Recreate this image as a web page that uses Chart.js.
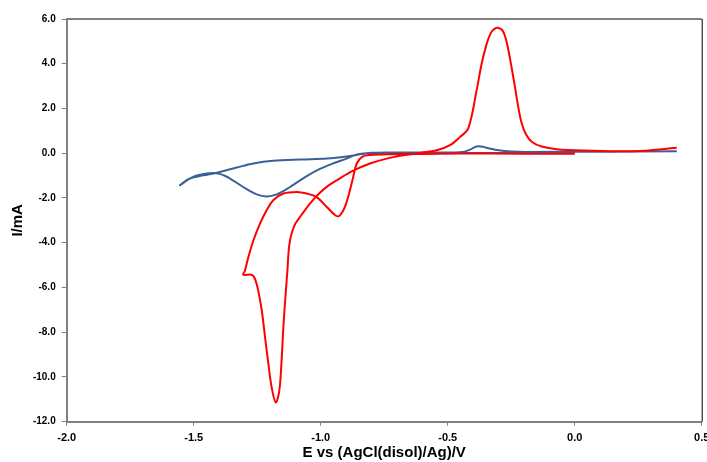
<!DOCTYPE html>
<html>
<head>
<meta charset="utf-8">
<script src="https://cdn.jsdelivr.net/npm/chart.js@4.4.0/dist/chart.umd.min.js"></script>
<style>
  body { margin: 0; background: #fff; }
  #wrap { width: 707px; height: 462px; position: relative; }
</style>
</head>
<body>
<div id="wrap"><canvas id="graf"></canvas></div>
<script>
// red curve (E in V, I in mA), in scan order
const redE = [0.00, -0.215, -0.452, -0.609, -0.727, -0.806, -0.837, -0.858, -0.872, -0.885, -0.898, -0.911, -0.931,
  -0.950, -0.976, -1.016, -1.055, -1.094, -1.147, -1.187, -1.213, -1.239, -1.265, -1.285, -1.298, -1.305,
  -1.272, -1.259, -1.246, -1.232, -1.219, -1.206, -1.193, -1.177, -1.163, -1.154, -1.147, -1.138, -1.131,
  -1.126, -1.120, -1.112, -1.100, -1.075, -1.040, -1.003, -0.970, -0.937, -0.872, -0.806, -0.740, -0.675, -0.609,
  -0.543, -0.491, -0.452, -0.419, -0.386, -0.366, -0.346, -0.330, -0.316, -0.300, -0.285, -0.272, -0.260, -0.248,
  -0.235, -0.222, -0.209, -0.192, -0.168, -0.130, -0.071, 0.034, 0.231, 0.402];
const redI = [-0.02, -0.02, -0.01, -0.03, -0.04, -0.08, -0.16, -0.46, -1.06, -1.66, -2.18, -2.55, -2.82,
  -2.70, -2.40, -1.96, -1.80, -1.73, -1.80, -2.10, -2.55, -3.15, -3.90, -4.65, -5.24, -5.43,
  -5.43, -5.61, -6.14, -7.03, -8.23, -9.42, -10.47, -11.14, -10.61, -9.27, -7.78, -6.28, -5.24,
  -4.34, -3.85, -3.50, -3.15, -2.75, -2.22, -1.77, -1.45, -1.21, -0.78, -0.46, -0.24, -0.09, 0.01,
  0.13, 0.36, 0.72, 1.11, 2.82, 4.02, 4.91, 5.38, 5.56, 5.60, 5.50, 5.15, 4.55, 3.80,
  2.95, 2.05, 1.35, 0.85, 0.50, 0.30, 0.18, 0.12, 0.09, 0.24];

// blue curve
const blueE = [0.00, -0.215, -0.452, -0.609, -0.727, -0.819, -0.858, -0.898, -0.950, -1.003, -1.055, -1.121,
  -1.173, -1.213, -1.252, -1.305, -1.357, -1.403, -1.449, -1.502, -1.554,
  -1.515, -1.462, -1.409, -1.331, -1.265, -1.187, -1.081, -0.976, -0.898, -0.840, -0.800, -0.688, -0.530,
  -0.440, -0.412, -0.395, -0.380, -0.362, -0.335, -0.300, -0.250, -0.189, 0.100, 0.402];
const blueI = [0.01, 0.01, 0.01, 0.00, 0.00, 0.00, -0.06, -0.24, -0.45, -0.70, -1.02, -1.51,
  -1.84, -1.93, -1.84, -1.51, -1.13, -0.91, -0.91, -1.06, -1.43,
  -1.13, -0.99, -0.87, -0.64, -0.46, -0.34, -0.28, -0.24, -0.15, -0.04, 0.02, 0.03, 0.03,
  0.06, 0.16, 0.26, 0.31, 0.29, 0.21, 0.13, 0.08, 0.06, 0.07, 0.09];

const xTicks = [-2.0, -1.5, -1.0, -0.5, 0.0, 0.5];
const yTicks = [-12, -10, -8, -6, -4, -2, 0, 2, 4, 6];

function pts(xs, ys) {
  return xs.map((x, i) => ({ x: x, y: ys[i] }));
}

// top and right edges of the plot box
const boxPlugin = {
  id: 'box',
  afterDraw(chart) {
    const a = chart.chartArea, ctx = chart.ctx;
    ctx.save();
    ctx.strokeStyle = '#808080';
    ctx.lineWidth = 2;
    ctx.beginPath();
    ctx.moveTo(a.left, a.top);
    ctx.lineTo(a.right, a.top);
    ctx.stroke();
    ctx.strokeStyle = '#000';
    ctx.lineWidth = 1;
    ctx.beginPath();
    ctx.moveTo(a.right + 0.5, a.top);
    ctx.lineTo(a.right + 0.5, a.bottom);
    ctx.stroke();
    ctx.restore();
  }
};

const ctx = document.querySelector('#graf').getContext('2d');
const graf = new Chart(ctx, {
  type: 'scatter',
  data: {
    datasets: [{
      label: 'red',
      data: pts(redE, redI),
      showLine: true,
      borderColor: '#ff0000',
      borderWidth: 2,
      pointRadius: 0,
      tension: 0.35
    }, {
      label: 'blue',
      data: pts(blueE, blueI),
      showLine: true,
      borderColor: '#3a6196',
      borderWidth: 2,
      pointRadius: 0,
      tension: 0.35
    }]
  },
  options: {
    responsive: true,
    maintainAspectRatio: false,
    animation: false,
    layout: { padding: { top: 19, right: 5.3, left: 0, bottom: 0 } },
    plugins: { legend: { display: false }, tooltip: { enabled: false } },
    scales: {
      x: {
        type: 'linear',
        min: -2, max: 0.5,
        afterBuildTicks: (s) => { s.ticks = xTicks.map(v => ({ value: v })); },
        ticks: {
          color: '#000',
          font: { family: 'Arial, "Liberation Sans"', size: 11, weight: 'bold' },
          padding: 6,
          maxRotation: 0,
          callback: (v) => Number(v).toFixed(1)
        },
        grid: { drawOnChartArea: false, drawTicks: true, tickLength: 4, color: '#808080' },
        border: { color: '#808080', width: 2 },
        title: {
          display: true,
          text: 'E vs (AgCl(disol)/Ag)/V',
          color: '#000',
          font: { family: 'Arial, "Liberation Sans"', size: 15, weight: 'bold' },
          padding: { top: 0, bottom: 0 }
        },
        afterFit: (s) => { s.height = 40.3; s.paddingRight = 0; s.paddingLeft = 0; }
      },
      y: {
        type: 'linear',
        min: -12, max: 6,
        afterBuildTicks: (s) => { s.ticks = yTicks.map(v => ({ value: v })); },
        ticks: {
          color: '#000',
          font: { family: 'Arial, "Liberation Sans"', size: 10, weight: 'bold' },
          padding: 6,
          callback: (v) => Number(v).toFixed(1)
        },
        grid: { drawOnChartArea: false, drawTicks: true, tickLength: 5, color: '#808080' },
        border: { color: '#808080', width: 2 },
        title: {
          display: true,
          text: 'I/mA',
          color: '#000',
          font: { family: 'Arial, "Liberation Sans"', size: 15, weight: 'bold' },
          padding: { top: 9, bottom: 0 }
        },
        afterFit: (s) => { s.width = 66.7; }
      }
    }
  },
  plugins: [boxPlugin]
});
</script>
</body>
</html>
